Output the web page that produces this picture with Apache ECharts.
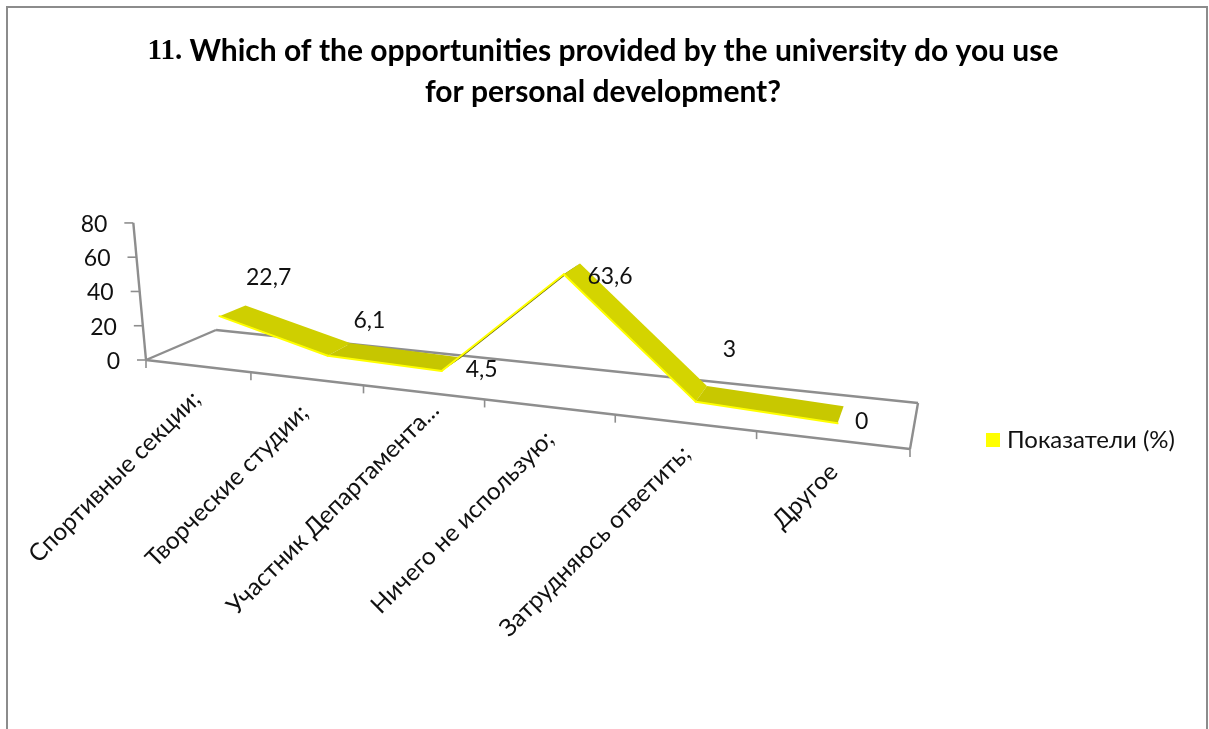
<!DOCTYPE html>
<html>
<head>
<meta charset="utf-8">
<style>
html,body{margin:0;padding:0;background:#fff}
#chart{width:1209px;height:729px}
</style>
<script src="https://cdn.jsdelivr.net/npm/echarts@6/dist/echarts.min.js"></script>
</head>
<body>
<div id="chart"></div>
<script>
// Survey results, in percent
const categories = ['Спортивные секции;', 'Творческие студии;', 'Участник Департамента...', 'Ничего не использую;', 'Затрудняюсь ответить;', 'Другое'];
const values = [22.7, 6.1, 4.5, 63.6, 3, 0];
const yTicks = [0, 20, 40, 60, 80];
const seriesName = 'Показатели (%)';

// Shade of each ribbon segment, as lit by its slope
const segmentFill = ['#cfcf00', '#c6c600', '#6d6d00', '#d4d400', '#c8c800'];
// Where each value label sits relative to the ribbon's centre line
const labelNudge = [[36, -33], [30, -29], [30, 5], [38, 8], [28, -44], [21, 7]];
// Where each rotated category label ends relative to its place on the front axis
const categoryNudge = [[-1, 29], [-2, 30], [12, 14], [1, 28], [2, 27], [2, 28]];

const FONT = 'Lato, "Noto Sans", sans-serif';
const GRAY = '#8e8e8e';
const TEXT = '#111';

// Perspective floor: corners of the unit square (u along the category axis, d into depth)
const H = (function () {
  const p0 = [146, 360], p1 = [910, 449], p2 = [918, 403], p3 = [216, 330];
  const dx1 = p1[0] - p2[0], dx2 = p3[0] - p2[0], sx = p0[0] - p1[0] + p2[0] - p3[0];
  const dy1 = p1[1] - p2[1], dy2 = p3[1] - p2[1], sy = p0[1] - p1[1] + p2[1] - p3[1];
  const den = dx1 * dy2 - dx2 * dy1;
  const g = (sx * dy2 - dx2 * sy) / den, h = (dx1 * sy - sx * dy1) / den;
  return {
    a: p1[0] - p0[0] + g * p1[0], b: p3[0] - p0[0] + h * p3[0], c: p0[0],
    e: p1[1] - p0[1] + g * p1[1], f: p3[1] - p0[1] + h * p3[1], k: p0[1],
    g: g, h: h
  };
})();
// Vanishing point of the verticals and the perspective gain of a full-height column
const VP = [570, 4944];
const GAIN = 0.0299;
const RIBBON_FRONT = 0.35, RIBBON_BACK = 0.74;

// Maps (u, depth, height) with all three in 0..1 to the page
function project(u, d, z) {
  const w = 1 + H.g * u + H.h * d;
  const x = (H.a * u + H.b * d + H.c) / w;
  const y = (H.e * u + H.f * d + H.k) / w;
  const s = 1 + GAIN * z / w;
  return [VP[0] + (x - VP[0]) * s, VP[1] + (y - VP[1]) * s];
}
// Converts a data pair to axis fractions through the hidden cartesian scales
function fractions(api, cs, cat, val) {
  const c = api.coord([cat, val]);
  return [(c[0] - cs.x) / cs.width, (cs.y + cs.height - c[1]) / cs.height];
}
function seg(a, b, lw) {
  return {
    type: 'line',
    shape: { x1: a[0], y1: a[1], x2: b[0], y2: b[1] },
    style: { stroke: GRAY, lineWidth: lw || 2.4, fill: null }
  };
}

function renderAxes(params, api) {
  const cs = params.coordSys;
  const children = [];
  const n = categories.length;
  const top = fractions(api, cs, 0, yTicks[yTicks.length - 1])[1];
  children.push(seg(project(0, 0, 0), project(0, 0, top)));
  children.push(seg(project(0, 0, 0), project(1, 0, 0)));
  children.push(seg(project(0, 0, 0), project(0, 1, 0)));
  children.push(seg(project(0, 1, 0), project(1, 1, 0)));
  children.push(seg(project(1, 0, 0), project(1, 1, 0)));
  for (let k = 0; k <= n; k++) {
    const p = project(k / n, 0, 0);
    children.push(seg(p, [p[0], p[1] + 8], 1.6));
  }
  yTicks.forEach(function (t) {
    const p = project(0, 0, fractions(api, cs, 0, t)[1]);
    children.push(seg(p, [p[0] - 9, p[1]], 1.6));
    children.push({
      type: 'text', x: p[0] - 26, y: p[1] + 1.5,
      style: { text: String(t), fill: TEXT, font: '23px ' + FONT, textAlign: 'right', textVerticalAlign: 'middle' }
    });
  });
  categories.forEach(function (name, i) {
    const p = project(fractions(api, cs, i, 0)[0], 0, 0);
    children.push({
      type: 'text', x: p[0] + categoryNudge[i][0], y: p[1] + categoryNudge[i][1], rotation: Math.PI / 4,
      style: { text: name, fill: TEXT, font: '24.3px ' + FONT, textAlign: 'right', textVerticalAlign: 'middle' }
    });
  });
  return { type: 'group', children: children };
}

function renderRibbon(params, api) {
  const cs = params.coordSys;
  const i = api.value(0), v = api.value(1);
  const a = fractions(api, cs, i, v);
  const children = [];
  if (i + 1 < values.length) {
    const b = fractions(api, cs, i + 1, values[i + 1]);
    const f0 = project(a[0], RIBBON_FRONT, a[1]), f1 = project(b[0], RIBBON_FRONT, b[1]);
    const b0 = project(a[0], RIBBON_BACK, a[1]), b1 = project(b[0], RIBBON_BACK, b[1]);
    children.push({ type: 'polygon', shape: { points: [f0, f1, b1, b0] }, style: { fill: segmentFill[i] } });
    children.push({
      type: 'line', shape: { x1: f0[0], y1: f0[1], x2: f1[0], y2: f1[1] },
      style: { stroke: '#ffff00', lineWidth: 2, fill: null, lineCap: 'round' }
    });
  }
  const m = project(a[0], (RIBBON_FRONT + RIBBON_BACK) / 2, a[1]);
  children.push({
    type: 'text', x: m[0] + labelNudge[i][0], y: m[1] + labelNudge[i][1], z2: 10,
    style: { text: String(v).replace('.', ','), fill: TEXT, font: '23px ' + FONT, textAlign: 'center', textVerticalAlign: 'middle' }
  });
  return { type: 'group', children: children };
}

const chart = echarts.init(document.getElementById('chart'), null, { renderer: 'canvas' });
chart.setOption({
  animation: false,
  backgroundColor: '#fff',
  title: {
    left: 598, top: 26, textAlign: 'center',
    text: '{n|11.}{t| Which of the opportunities provided by the university do you use}\n{t|for personal development?}',
    textStyle: {
      rich: {
        n: { fontFamily: '"Liberation Serif", serif', fontWeight: 'bold', fontSize: 29, lineHeight: 41, color: '#000' },
        t: { fontFamily: FONT, fontWeight: 'bold', fontSize: 30, lineHeight: 41, color: '#000' }
      }
    }
  },
  legend: {
    left: 981, top: 423, orient: 'vertical', itemWidth: 14, itemHeight: 14,
    data: [{ name: seriesName, icon: 'rect', itemStyle: { color: '#ffff00' } }],
    textStyle: { fontFamily: FONT, fontSize: 24, color: TEXT, padding: [0, 0, 0, 2] }
  },
  graphic: [{
    type: 'rect', z: -1,
    shape: { x: 7, y: 7, width: 1200, height: 760 },
    style: { fill: null, stroke: '#8c8c8c', lineWidth: 2 }
  }],
  grid: { left: 146, top: 222, width: 764, height: 138 },
  xAxis: { type: 'category', data: categories, boundaryGap: true, show: false },
  yAxis: { type: 'value', min: 0, max: 80, interval: 20, show: false },
  series: [
    {
      name: 'axes', type: 'custom', silent: true, clip: false, z: 1,
      renderItem: renderAxes, data: [[0, 0]], encode: { x: 0, y: 1 }
    },
    {
      name: seriesName, type: 'custom', silent: true, clip: false, z: 2,
      itemStyle: { color: '#ffff00' },
      renderItem: renderRibbon,
      data: values.map(function (v, i) { return [i, v]; }),
      encode: { x: 0, y: 1 }
    }
  ]
});
</script>
</body>
</html>
